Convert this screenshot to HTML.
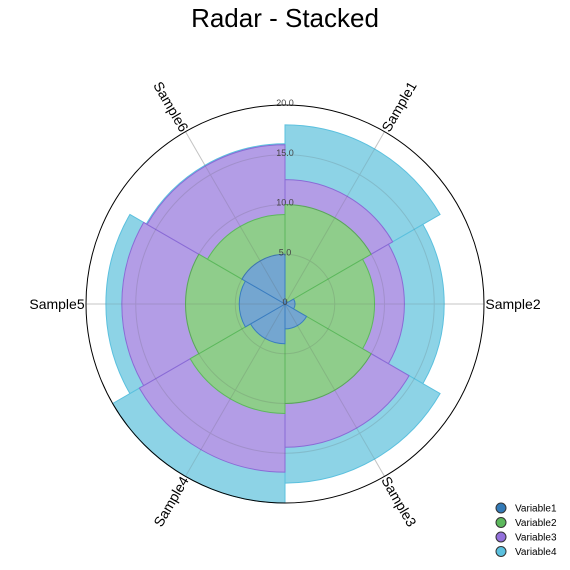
<!DOCTYPE html>
<html><head><meta charset="utf-8"><style>
body{margin:0;background:#fff;}
svg{display:block;font-family:"Liberation Sans",Arial,sans-serif;}
</style></head><body>
<svg id="chart" width="570" height="570" viewBox="0 0 570 570">
<text x="285" y="27" text-anchor="middle" font-size="26" fill="#000">Radar - Stacked</text>
<g id="grid"></g>
<g id="bars"></g>
<g id="overlay" opacity="0.18"></g>
<g id="labels"></g>
<g id="ticks"></g>
<g id="legend"></g>
</svg>
<script>
const categories = ["Sample1","Sample2","Sample3","Sample4","Sample5","Sample6"];
const seriesNames = ["Variable1","Variable2","Variable3","Variable4"];
const variable1 = [0.3,1.0,2.5,4.0,4.6,5.0];
const variable2 = [9.7,8.0,7.5,7.0,5.4,4.0];
const variable3 = [2.5,3.0,4.4,5.9,6.4,7.0];
const variable4 = [5.5,4.0,3.6,3.1,1.6,0.1];
const tickValues = [0,5,10,15,20];
const tickLabels = ["0","5.0","10.0","15.0","20.0"];

const series = [variable1,variable2,variable3,variable4];
const fills = ["#74a6d0","#8fcd8b","#b39de6","#8dd3e6"];
const strokes = ["#3a7dc0","#5cb85c","#8a6bd6","#5bc0de"];
const legendFills = ["#337ab7","#5cb85c","#9370db","#5bc0de"];
const cx=285, cy=304, R=199, maxV=20;
const NS="http://www.w3.org/2000/svg";
function rScale(v){return v/maxV*R;}
function aScale(i){return i*360/categories.length;}
function pt(deg,r){const a=deg*Math.PI/180;return [cx+r*Math.sin(a), cy-r*Math.cos(a)];}
function mk(tag,attrs,parent){const e=document.createElementNS(NS,tag);for(const k in attrs)e.setAttribute(k,attrs[k]);parent.appendChild(e);return e;}
const step=360/categories.length;

function drawGrid(g,color){
  tickValues.forEach((v,i)=>{ if(v>0&&v<maxV){
    const c=mk('circle',{cx:cx,cy:cy,r:rScale(v),fill:'none',stroke:color,'stroke-width':1},g);
    
    
  }});
  categories.forEach((cat,i)=>{
    const p=pt(aScale(i)+step/2,R);
    const l=mk('line',{x1:cx,y1:cy,x2:p[0],y2:p[1],stroke:color,'stroke-width':1},g);
    
    
  });
}
drawGrid(document.getElementById('grid'),'#ddd');
drawGrid(document.getElementById('overlay'),'#555');

const bars=document.getElementById('bars');
for(let s=series.length-1;s>=0;s--){
  categories.forEach((c,i)=>{
    let cum=0; for(let t=0;t<=s;t++) cum+=series[t][i];
    const a0=aScale(i), a1=a0+step;
    const r1=rScale(cum);
    const p0=pt(a0,r1), p1=pt(a1,r1);
    const d=`M${cx},${cy} L${p0[0]},${p0[1]} A${r1},${r1} 0 0 1 ${p1[0]},${p1[1]} Z`;
    const path=mk('path',{d:d,fill:fills[s],stroke:strokes[s],'stroke-width':1},bars);
    
    
  });
}
const outer=mk('circle',{cx:cx,cy:cy,r:R,fill:'none',stroke:'#000','stroke-width':1},document.getElementById('chart'));



const labels=document.getElementById('labels');
categories.forEach((c,i)=>{
  const ang=aScale(i)+step/2;
  const p=pt(ang,228);
  let rot=ang-90; if(rot>90) rot-=180;
  const t=mk('text',{x:p[0],y:p[1],'text-anchor':'middle','dominant-baseline':'central','font-size':14,fill:'#000',transform:`rotate(${rot} ${p[0]} ${p[1]})`},labels);
  t.textContent=c;
  
  
});

const ticks=document.getElementById('ticks');
tickValues.forEach((v,i)=>{
  const t=mk('text',{x:cx,y:cy-rScale(v)+1,'text-anchor':'middle','font-size':9,fill:'#444'},ticks);
  t.textContent=tickLabels[i];
  
  
});

const legend=document.getElementById('legend');
seriesNames.forEach((n,i)=>{
  const y=508+i*14.5;
  const c=mk('circle',{cx:501,cy:y,r:5,fill:legendFills[i],stroke:'#333','stroke-width':1},legend);
  
  
  const t=mk('text',{x:515,y:y+3.5,'font-size':10,fill:'#000'},legend);
  t.textContent=n;
  
  
});
</script>
</body></html>
